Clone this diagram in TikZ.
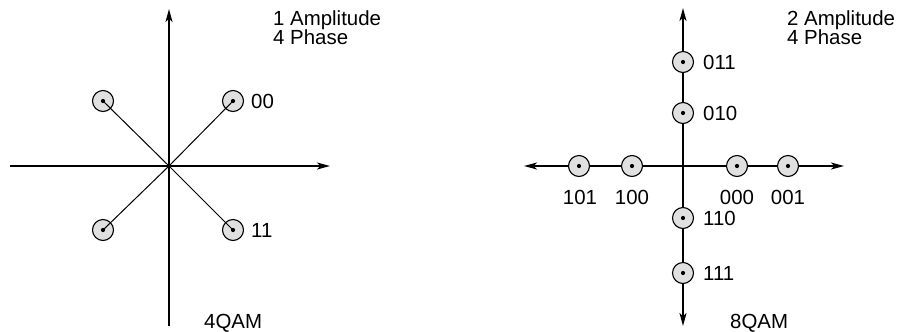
\documentclass[tikz,border=0pt]{standalone}
\usepackage{fontspec}
\setmainfont{Liberation Sans}
\usetikzlibrary{arrows.meta}
\tikzset{
  tip/.tip={Stealth[length=13bp,width=7bp,inset=3.5bp]},
  axis/.style={line width=1.8bp, -tip},
  axis2/.style={line width=1.8bp, tip-tip},
  ray/.style={line width=1bp},
  pt/.style={circle, draw, line width=1.1bp, fill=black!12, minimum size=21bp, inner sep=0pt},
  lbl/.style={font=\fontsize{20.5}{22}\selectfont, inner sep=0pt},
  dot/.style={fill=black},
}
\newcommand{\sigpoint}[3]{%
  \node[pt] (#1) at (#2,#3) {};
  \fill[dot] (#1.center) circle (2.1bp);}
\begin{document}
\begin{tikzpicture}[x=1bp,y=-1bp]
  \useasboundingbox (0,0) rectangle (902,331);
  % ---- 4QAM constellation ----
  \coordinate (o1) at (169,166);
  \coordinate (l1t) at (169,9);
  \coordinate (l1b) at (169,326);
  \coordinate (l1l) at (10,166);
  \coordinate (l1r) at (330,166);
  \draw[axis] (l1b) -- (l1t);
  \draw[axis] (l1l) -- (l1r);
  \sigpoint{q1}{233}{101}
  \sigpoint{q2}{103}{101}
  \sigpoint{q3}{103}{230}
  \sigpoint{q4}{233}{230}
  \foreach \p in {q1,q2,q3,q4} \draw[ray] (o1) -- (\p.center);
  \node[lbl, anchor=west] (t00) at (251,101) {00};
  \node[lbl, anchor=west] (t11) at (251,230) {11};
  \node[lbl, anchor=base west] (amp1) at (273,25) {1 Amplitude};
  \node[lbl, anchor=base west] (ph1) at (273,44) {4 Phase};
  \node[lbl, anchor=base west] (n4) at (204,328) {4QAM};
  % ---- 8QAM constellation ----
  \coordinate (r1t) at (683,8);
  \coordinate (r1b) at (683,326);
  \coordinate (r1l) at (524,166);
  \coordinate (r1r) at (844,166);
  \draw[axis2] (r1b) -- (r1t);
  \draw[axis2] (r1l) -- (r1r);
  \sigpoint{v1}{683}{62}
  \sigpoint{v2}{683}{113}
  \sigpoint{v3}{683}{218}
  \sigpoint{v4}{683}{273}
  \sigpoint{h1}{579}{166}
  \sigpoint{h2}{632}{166}
  \sigpoint{h3}{737}{166}
  \sigpoint{h4}{788}{166}
  \node[lbl, anchor=west] at (703,62) {011};
  \node[lbl, anchor=west] at (703,113) {010};
  \node[lbl, anchor=west] at (703,218) {110};
  \node[lbl, anchor=west] at (703,273) {111};
  \node[lbl] at (580,197) {101};
  \node[lbl] at (632,197) {100};
  \node[lbl] at (737,197) {000};
  \node[lbl] at (788,197) {001};
  \node[lbl, anchor=base west] (amp2) at (787,25) {2 Amplitude};
  \node[lbl, anchor=base west] (ph2) at (787,44) {4 Phase};
  \node[lbl, anchor=base west] (n8) at (730,328) {8QAM};
\end{tikzpicture}
\end{document}
